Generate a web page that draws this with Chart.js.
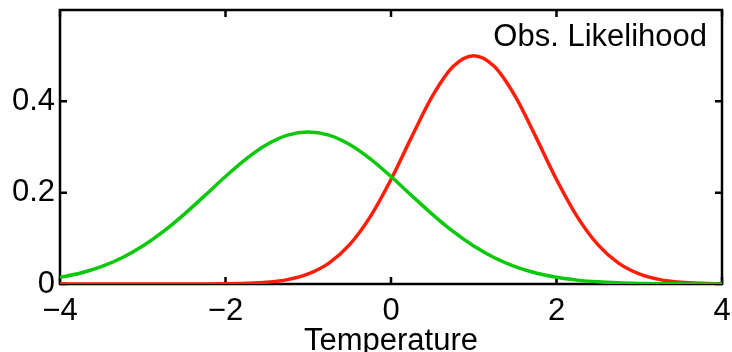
<!DOCTYPE html>
<html>
<head>
<meta charset="utf-8">
<script src="https://cdn.jsdelivr.net/npm/chart.js@4/dist/chart.umd.min.js"></script>
<style>
  html, body { margin: 0; padding: 0; background: #fff; }
  #wrap { width: 732px; height: 352px; }
</style>
</head>
<body>
<div id="wrap"><canvas id="likelihood-chart"></canvas></div>
<script>
// temperature samples and the two likelihood curves
var temps = [-4, -3.75, -3.5, -3.25, -3, -2.75, -2.5, -2.25, -2, -1.75, -1.5, -1.25, -1, -0.75, -0.5, -0.25,
    0, 0.25, 0.5, 0.75, 1, 1.25, 1.5, 1.75, 2, 2.25, 2.5, 2.75, 3, 3.25, 3.5, 3.75, 4];
var greenLik = [0.0146, 0.0241, 0.0380, 0.0574, 0.0830, 0.1150, 0.1525, 0.1936, 0.2353, 0.2739, 0.3053, 0.3259, 0.333, 0.3259, 0.3053, 0.2739,
    0.2353, 0.1936, 0.1525, 0.1150, 0.0830, 0.0574, 0.0380, 0.0241, 0.0146, 0.0085, 0.0047, 0.0025, 0.0013, 0.0006, 0.0003, 0.0001, 0.0001];
var redLik = [0, 0, 0, 0, 0, 0, 0, 0.0001, 0.0004, 0.0014, 0.0038, 0.0096, 0.0220, 0.0457, 0.0862, 0.1475,
    0.2289, 0.3222, 0.4113, 0.4762, 0.5, 0.4762, 0.4113, 0.3222, 0.2289, 0.1475, 0.0862, 0.0457, 0.0220, 0.0096, 0.0038, 0.0014, 0.0004];
var xTicks = [-4, -2, 0, 2, 4];
var yTicks = [0, 0.2, 0.4];
var xLabel = 'Temperature';
var boxLabel = 'Obs. Likelihood';

var fontFamily = '"Liberation Sans", Arial, Helvetica, sans-serif';

function toPoints(vals) {
    return temps.map(function (t, i) { return { x: t, y: vals[i] }; });
}

function fmt(v) {
    return v < 0 ? '\u2212' + Math.abs(v) : String(v);
}

// matlab-ish box with inward ticks on all four sides
var boxPlugin = {
    id: 'boxPlugin',
    beforeDatasetsDraw: function (chart) {
        var ctx = chart.ctx, a = chart.chartArea;
        var xs = chart.scales.x, ys = chart.scales.y;
        var len = 7;
        ctx.save();
        ctx.strokeStyle = '#000';
        ctx.lineWidth = 2.5;
        ctx.strokeRect(a.left, a.top, a.right - a.left, a.bottom - a.top);
        ctx.beginPath();
        xTicks.forEach(function (v) {
            var px = xs.getPixelForValue(v);
            ctx.moveTo(px, a.bottom); ctx.lineTo(px, a.bottom - len);
            ctx.moveTo(px, a.top); ctx.lineTo(px, a.top + len);
        });
        yTicks.forEach(function (v) {
            var py = ys.getPixelForValue(v);
            ctx.moveTo(a.left, py); ctx.lineTo(a.left + len, py);
            ctx.moveTo(a.right, py); ctx.lineTo(a.right - len, py);
        });
        ctx.stroke();
        ctx.restore();
    },
    afterDraw: function (chart) {
        var ctx = chart.ctx, a = chart.chartArea;
        ctx.save();
        ctx.fillStyle = '#000';
        ctx.font = '31px ' + fontFamily;
        ctx.textAlign = 'right';
        ctx.textBaseline = 'middle';
        ctx.fillText(boxLabel, a.right - 15, a.top + 27);
        ctx.restore();
    }
};

var ctxLik = document.getElementById('likelihood-chart').getContext('2d');

var dataLik = {
    datasets: [{
        label: 'green',
        data: toPoints(greenLik),
        borderColor: 'rgb(10, 200, 10)',
        borderWidth: 3.5,
        pointRadius: 0,
        fill: false,
        cubicInterpolationMode: 'monotone'
    }, {
        label: 'red',
        data: toPoints(redLik),
        borderColor: 'rgb(255, 30, 10)',
        borderWidth: 3.5,
        pointRadius: 0,
        fill: false,
        cubicInterpolationMode: 'monotone'
    }]
};

var optionLik = {
    responsive: true,
    maintainAspectRatio: false,
    animation: false,
    layout: { padding: 0 },
    plugins: {
        legend: { display: false },
        tooltip: { enabled: false }
    },
    scales: {
        x: {
            type: 'linear',
            min: -4,
            max: 4,
            grid: { display: false, drawTicks: false },
            border: { display: false },
            afterBuildTicks: function (axis) {
                axis.ticks = xTicks.map(function (v) { return { value: v }; });
            },
            afterFit: function (axis) {
                axis.height = 68;
                axis.paddingRight = 10;
            },
            ticks: {
                color: '#000',
                padding: 9,
                maxRotation: 0,
                font: { family: fontFamily, size: 31 },
                callback: fmt
            },
            title: {
                display: true,
                text: xLabel,
                color: '#000',
                padding: { top: 0, bottom: -8 },
                font: { family: fontFamily, size: 31 }
            }
        },
        y: {
            min: 0,
            max: 0.6,
            grid: { display: false, drawTicks: false },
            border: { display: false },
            afterBuildTicks: function (axis) {
                axis.ticks = yTicks.map(function (v) { return { value: v }; });
            },
            afterFit: function (axis) {
                axis.width = 60;
                axis.paddingTop = 10;
            },
            ticks: {
                color: '#000',
                padding: 5,
                font: { family: fontFamily, size: 31 },
                callback: fmt
            }
        }
    }
};

new Chart(ctxLik, { type: 'line', data: dataLik, options: optionLik, plugins: [boxPlugin] });
</script>
</body>
</html>
